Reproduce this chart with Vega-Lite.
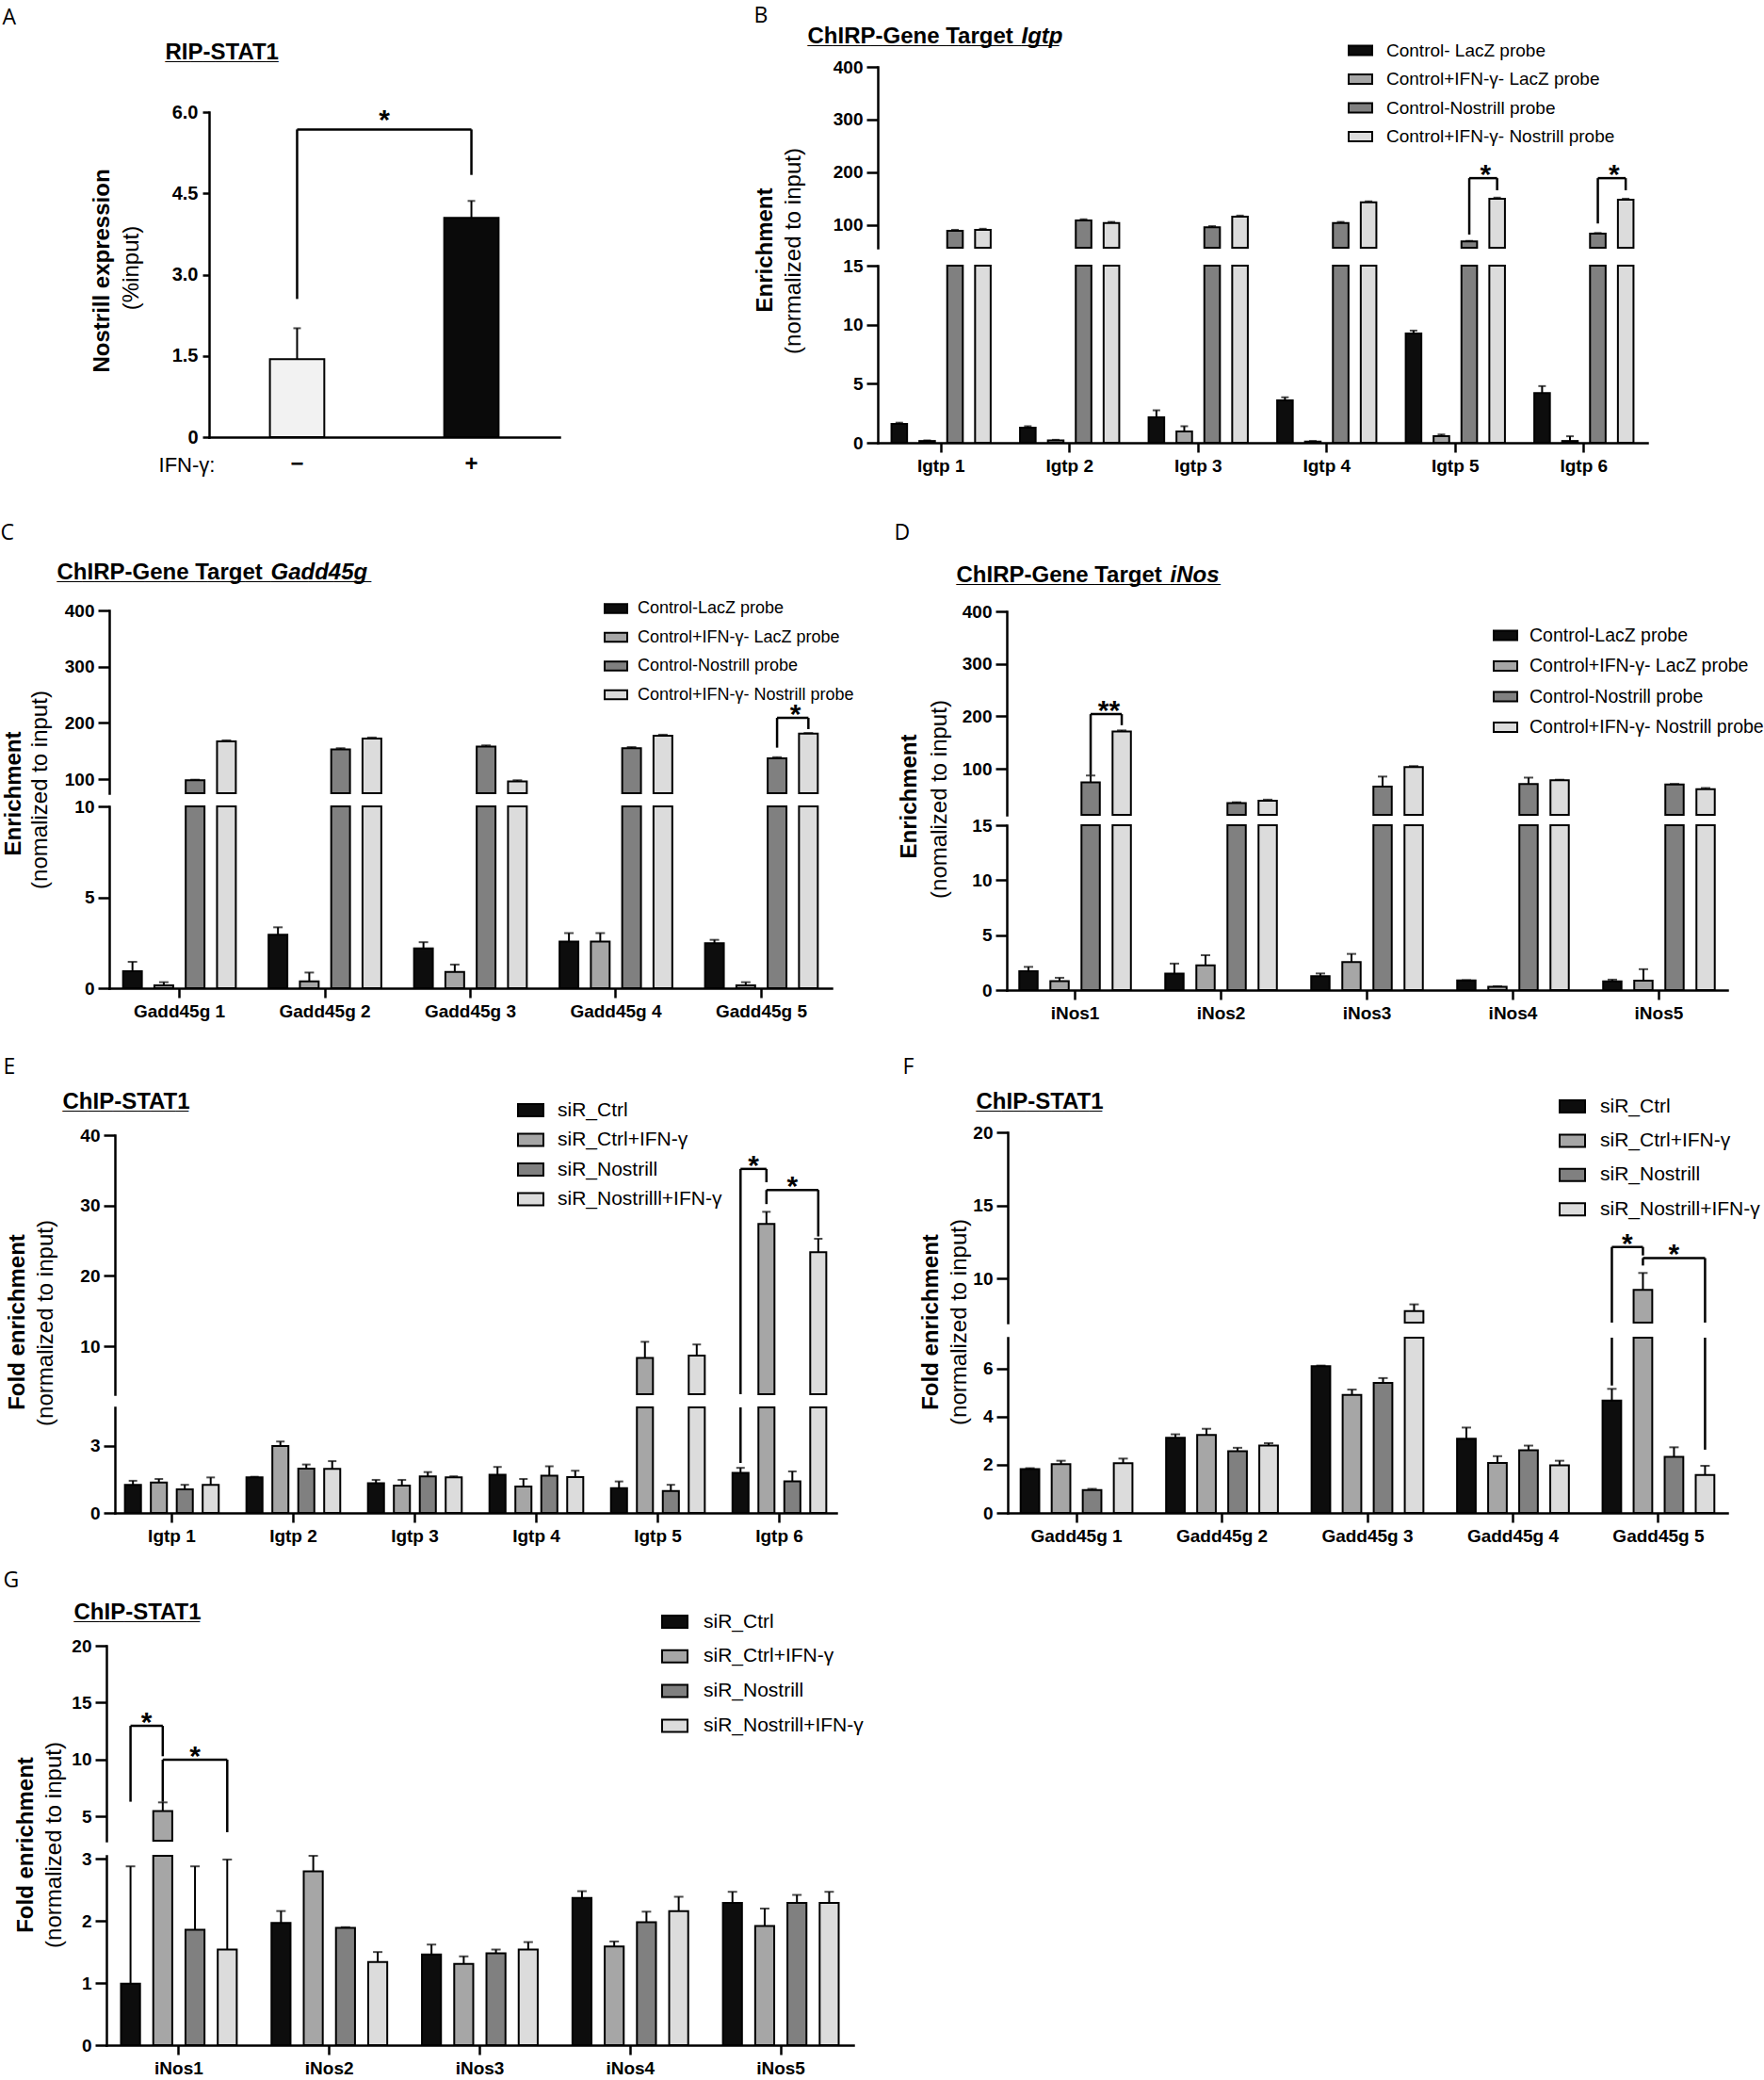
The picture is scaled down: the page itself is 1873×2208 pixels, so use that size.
{
"$schema": "https://vega.github.io/schema/vega-lite/v6.json",
"background": "white",
"padding": 0,
"columns": 2,
"spacing": 0,
"bounds": "flush",
"align": "each",
"resolve": {"scale": {"fill": "independent", "xOffset": "independent"}, "legend": {"fill": "independent"}},
"config": {
  "view": {"stroke": null},
  "font": "Liberation Sans",
  "axis": {"domainColor": "black", "domainWidth": 2.5, "domainCap": "square", "tickColor": "black", "tickWidth": 2.5, "tickSize": 12, "labelColor": "black", "labelFont": "Liberation Sans", "labelFontWeight": "bold", "labelFontSize": 19, "labelPadding": 4, "labelOverlap": false, "labelFlush": false, "labelBound": false, "titleColor": "black", "titleFont": "Liberation Sans", "grid": false, "zindex": 1},
  "axisX": {"labelAngle": 0, "tickSize": 10, "labelPadding": 5},
  "legend": {"labelFont": "Liberation Sans", "labelColor": "black", "labelLimit": 500}
},
"datasets": {
  "A": [{"g":"−","v":1.44,"e":2.01},{"g":"+","v":4.05,"e":4.36}],
  "Av": [{"g":"−","y1":2.55,"y2":5.68},{"g":"+","y1":4.84,"y2":5.68}],
  "Ah": [{"g":"−","y":5.68},{"g":"+","y":5.68}],
  "As": [{"g":"−","y":5.68,"t":"*"}],
  "B": [
    {"g":"Igtp 1","s":"Control- LacZ probe","v":1.6,"e":1.7},
    {"g":"Igtp 1","s":"Control+IFN-γ- LacZ probe","v":0.15,"e":0.2},
    {"g":"Igtp 1","s":"Control-Nostrill probe","v":89,"e":91},
    {"g":"Igtp 1","s":"Control+IFN-γ- Nostrill probe","v":91,"e":93},
    {"g":"Igtp 2","s":"Control- LacZ probe","v":1.27,"e":1.4},
    {"g":"Igtp 2","s":"Control+IFN-γ- LacZ probe","v":0.2,"e":0.25},
    {"g":"Igtp 2","s":"Control-Nostrill probe","v":109,"e":111},
    {"g":"Igtp 2","s":"Control+IFN-γ- Nostrill probe","v":104,"e":106},
    {"g":"Igtp 3","s":"Control- LacZ probe","v":2.15,"e":2.75},
    {"g":"Igtp 3","s":"Control+IFN-γ- LacZ probe","v":0.95,"e":1.4},
    {"g":"Igtp 3","s":"Control-Nostrill probe","v":96,"e":98},
    {"g":"Igtp 3","s":"Control+IFN-γ- Nostrill probe","v":116,"e":118},
    {"g":"Igtp 4","s":"Control- LacZ probe","v":3.6,"e":3.85},
    {"g":"Igtp 4","s":"Control+IFN-γ- LacZ probe","v":0.1,"e":0.15},
    {"g":"Igtp 4","s":"Control-Nostrill probe","v":104,"e":106},
    {"g":"Igtp 4","s":"Control+IFN-γ- Nostrill probe","v":143,"e":145},
    {"g":"Igtp 5","s":"Control- LacZ probe","v":9.25,"e":9.5},
    {"g":"Igtp 5","s":"Control+IFN-γ- LacZ probe","v":0.55,"e":0.7},
    {"g":"Igtp 5","s":"Control-Nostrill probe","v":69,"e":70},
    {"g":"Igtp 5","s":"Control+IFN-γ- Nostrill probe","v":150,"e":152},
    {"g":"Igtp 6","s":"Control- LacZ probe","v":4.2,"e":4.8},
    {"g":"Igtp 6","s":"Control+IFN-γ- LacZ probe","v":0.15,"e":0.55},
    {"g":"Igtp 6","s":"Control-Nostrill probe","v":84,"e":85},
    {"g":"Igtp 6","s":"Control+IFN-γ- Nostrill probe","v":148,"e":150}
  ],
  "Bv": [
    {"g":"Igtp 5","s":"Control-Nostrill probe","y1":82,"y2":189},
    {"g":"Igtp 5","s":"Control+IFN-γ- Nostrill probe","y1":166,"y2":189},
    {"g":"Igtp 6","s":"Control-Nostrill probe","y1":103,"y2":189},
    {"g":"Igtp 6","s":"Control+IFN-γ- Nostrill probe","y1":166,"y2":189}
  ],
  "Bh": [
    {"id":1,"g":"Igtp 5","s":"Control-Nostrill probe","y":189},
    {"id":1,"g":"Igtp 5","s":"Control+IFN-γ- Nostrill probe","y":189},
    {"id":2,"g":"Igtp 6","s":"Control-Nostrill probe","y":189},
    {"id":2,"g":"Igtp 6","s":"Control+IFN-γ- Nostrill probe","y":189}
  ],
  "Bs": [
    {"g":"Igtp 5","s":"Control-Nostrill probe","y":189,"t":"*"},
    {"g":"Igtp 6","s":"Control-Nostrill probe","y":189,"t":"*"}
  ],
  "C": [
    {"g":"Gadd45g 1","s":"Control-LacZ probe","v":0.93,"e":1.45},
    {"g":"Gadd45g 1","s":"Control+IFN-γ- LacZ probe","v":0.15,"e":0.33},
    {"g":"Gadd45g 1","s":"Control-Nostrill probe","v":98,"e":99},
    {"g":"Gadd45g 1","s":"Control+IFN-γ- Nostrill probe","v":167,"e":169},
    {"g":"Gadd45g 2","s":"Control-LacZ probe","v":2.94,"e":3.35},
    {"g":"Gadd45g 2","s":"Control+IFN-γ- LacZ probe","v":0.37,"e":0.86},
    {"g":"Gadd45g 2","s":"Control-Nostrill probe","v":153,"e":155},
    {"g":"Gadd45g 2","s":"Control+IFN-γ- Nostrill probe","v":172,"e":174},
    {"g":"Gadd45g 3","s":"Control-LacZ probe","v":2.19,"e":2.53},
    {"g":"Gadd45g 3","s":"Control+IFN-γ- LacZ probe","v":0.89,"e":1.3},
    {"g":"Gadd45g 3","s":"Control-Nostrill probe","v":158,"e":160},
    {"g":"Gadd45g 3","s":"Control+IFN-γ- Nostrill probe","v":96,"e":98},
    {"g":"Gadd45g 4","s":"Control-LacZ probe","v":2.57,"e":3.03},
    {"g":"Gadd45g 4","s":"Control+IFN-γ- LacZ probe","v":2.57,"e":3.03},
    {"g":"Gadd45g 4","s":"Control-Nostrill probe","v":155,"e":157},
    {"g":"Gadd45g 4","s":"Control+IFN-γ- Nostrill probe","v":177,"e":179},
    {"g":"Gadd45g 5","s":"Control-LacZ probe","v":2.47,"e":2.66},
    {"g":"Gadd45g 5","s":"Control+IFN-γ- LacZ probe","v":0.15,"e":0.33},
    {"g":"Gadd45g 5","s":"Control-Nostrill probe","v":137,"e":139},
    {"g":"Gadd45g 5","s":"Control+IFN-γ- Nostrill probe","v":181,"e":182}
  ],
  "Cv": [
    {"g":"Gadd45g 5","s":"Control-Nostrill probe","y1":156,"y2":209},
    {"g":"Gadd45g 5","s":"Control+IFN-γ- Nostrill probe","y1":189,"y2":209}
  ],
  "Ch": [
    {"id":1,"g":"Gadd45g 5","s":"Control-Nostrill probe","y":209},
    {"id":1,"g":"Gadd45g 5","s":"Control+IFN-γ- Nostrill probe","y":209}
  ],
  "Cs": [{"g":"Gadd45g 5","s":"Control-Nostrill probe","y":209,"t":"*"}],
  "D": [
    {"g":"iNos1","s":"Control-LacZ probe","v":1.72,"e":2.11},
    {"g":"iNos1","s":"Control+IFN-γ- LacZ probe","v":0.81,"e":1.12},
    {"g":"iNos1","s":"Control-Nostrill probe","v":74,"e":87},
    {"g":"iNos1","s":"Control+IFN-γ- Nostrill probe","v":171,"e":173},
    {"g":"iNos2","s":"Control-LacZ probe","v":1.51,"e":2.41},
    {"g":"iNos2","s":"Control+IFN-γ- LacZ probe","v":2.26,"e":3.17},
    {"g":"iNos2","s":"Control-Nostrill probe","v":34.5,"e":36},
    {"g":"iNos2","s":"Control+IFN-γ- Nostrill probe","v":39,"e":41},
    {"g":"iNos3","s":"Control-LacZ probe","v":1.27,"e":1.51},
    {"g":"iNos3","s":"Control+IFN-γ- LacZ probe","v":2.54,"e":3.29},
    {"g":"iNos3","s":"Control-Nostrill probe","v":66,"e":85},
    {"g":"iNos3","s":"Control+IFN-γ- Nostrill probe","v":103,"e":105},
    {"g":"iNos4","s":"Control-LacZ probe","v":0.88,"e":0.9},
    {"g":"iNos4","s":"Control+IFN-γ- LacZ probe","v":0.3,"e":0.35},
    {"g":"iNos4","s":"Control-Nostrill probe","v":71,"e":83},
    {"g":"iNos4","s":"Control+IFN-γ- Nostrill probe","v":78,"e":79},
    {"g":"iNos5","s":"Control-LacZ probe","v":0.8,"e":0.95},
    {"g":"iNos5","s":"Control+IFN-γ- LacZ probe","v":0.86,"e":1.9},
    {"g":"iNos5","s":"Control-Nostrill probe","v":70,"e":71},
    {"g":"iNos5","s":"Control+IFN-γ- Nostrill probe","v":61,"e":63}
  ],
  "Dv": [
    {"g":"iNos1","s":"Control-Nostrill probe","y1":88,"y2":204},
    {"g":"iNos1","s":"Control+IFN-γ- Nostrill probe","y1":183,"y2":204}
  ],
  "Dh": [
    {"id":1,"g":"iNos1","s":"Control-Nostrill probe","y":204},
    {"id":1,"g":"iNos1","s":"Control+IFN-γ- Nostrill probe","y":204}
  ],
  "Ds": [{"g":"iNos1","s":"Control-Nostrill probe","y":204,"t":"**"}],
  "E": [
    {"g":"Igtp 1","s":"siR_Ctrl","v":1.26,"e":1.44},
    {"g":"Igtp 1","s":"siR_Ctrl+IFN-γ","v":1.36,"e":1.52},
    {"g":"Igtp 1","s":"siR_Nostrill","v":1.06,"e":1.26},
    {"g":"Igtp 1","s":"siR_Nostrilll+IFN-γ","v":1.26,"e":1.59},
    {"g":"Igtp 2","s":"siR_Ctrl","v":1.59,"e":1.62},
    {"g":"Igtp 2","s":"siR_Ctrl+IFN-γ","v":3.0,"e":3.2},
    {"g":"Igtp 2","s":"siR_Nostrill","v":1.98,"e":2.17},
    {"g":"Igtp 2","s":"siR_Nostrilll+IFN-γ","v":1.97,"e":2.32},
    {"g":"Igtp 3","s":"siR_Ctrl","v":1.33,"e":1.48},
    {"g":"Igtp 3","s":"siR_Ctrl+IFN-γ","v":1.23,"e":1.48},
    {"g":"Igtp 3","s":"siR_Nostrill","v":1.64,"e":1.83},
    {"g":"Igtp 3","s":"siR_Nostrilll+IFN-γ","v":1.59,"e":1.64},
    {"g":"Igtp 4","s":"siR_Ctrl","v":1.71,"e":2.06},
    {"g":"Igtp 4","s":"siR_Ctrl+IFN-γ","v":1.18,"e":1.52},
    {"g":"Igtp 4","s":"siR_Nostrill","v":1.67,"e":2.09},
    {"g":"Igtp 4","s":"siR_Nostrilll+IFN-γ","v":1.61,"e":1.89},
    {"g":"Igtp 5","s":"siR_Ctrl","v":1.11,"e":1.41},
    {"g":"Igtp 5","s":"siR_Ctrl+IFN-γ","v":8.32,"e":10.62},
    {"g":"Igtp 5","s":"siR_Nostrill","v":0.98,"e":1.26},
    {"g":"Igtp 5","s":"siR_Nostrilll+IFN-γ","v":8.66,"e":10.24},
    {"g":"Igtp 6","s":"siR_Ctrl","v":1.79,"e":2.02},
    {"g":"Igtp 6","s":"siR_Ctrl+IFN-γ","v":27.38,"e":29.1},
    {"g":"Igtp 6","s":"siR_Nostrill","v":1.41,"e":1.86},
    {"g":"Igtp 6","s":"siR_Nostrilll+IFN-γ","v":23.35,"e":25.27}
  ],
  "Ev": [
    {"g":"Igtp 6","s":"siR_Ctrl","y1":2.24,"y2":35.2},
    {"g":"Igtp 6","s":"siR_Ctrl+IFN-γ","y1":33.3,"y2":35.2},
    {"g":"Igtp 6","s":"siR_Ctrl+IFN-γ","y1":30.2,"y2":32.2},
    {"g":"Igtp 6","s":"siR_Nostrilll+IFN-γ","y1":25.6,"y2":32.2}
  ],
  "Eh": [
    {"id":1,"g":"Igtp 6","s":"siR_Ctrl","y":35.2},
    {"id":1,"g":"Igtp 6","s":"siR_Ctrl+IFN-γ","y":35.2},
    {"id":2,"g":"Igtp 6","s":"siR_Ctrl+IFN-γ","y":32.2},
    {"id":2,"g":"Igtp 6","s":"siR_Nostrilll+IFN-γ","y":32.2}
  ],
  "Es": [
    {"g":"Igtp 6","s":"siR_Ctrl","y":35.2,"t":"*","adj":1},
    {"g":"Igtp 6","s":"siR_Nostrill","y":32.2,"t":"*","adj":0}
  ],
  "F": [
    {"g":"Gadd45g 1","s":"siR_Ctrl","v":1.82,"e":1.86},
    {"g":"Gadd45g 1","s":"siR_Ctrl+IFN-γ","v":2.03,"e":2.17},
    {"g":"Gadd45g 1","s":"siR_Nostrill","v":0.95,"e":1.0},
    {"g":"Gadd45g 1","s":"siR_Nostrill+IFN-γ","v":2.07,"e":2.26},
    {"g":"Gadd45g 2","s":"siR_Ctrl","v":3.13,"e":3.27},
    {"g":"Gadd45g 2","s":"siR_Ctrl+IFN-γ","v":3.24,"e":3.5},
    {"g":"Gadd45g 2","s":"siR_Nostrill","v":2.57,"e":2.71},
    {"g":"Gadd45g 2","s":"siR_Nostrill+IFN-γ","v":2.8,"e":2.9},
    {"g":"Gadd45g 3","s":"siR_Ctrl","v":6.1,"e":6.13},
    {"g":"Gadd45g 3","s":"siR_Ctrl+IFN-γ","v":4.91,"e":5.13},
    {"g":"Gadd45g 3","s":"siR_Nostrill","v":5.41,"e":5.61},
    {"g":"Gadd45g 3","s":"siR_Nostrill+IFN-γ","v":7.76,"e":8.22},
    {"g":"Gadd45g 4","s":"siR_Ctrl","v":3.09,"e":3.55},
    {"g":"Gadd45g 4","s":"siR_Ctrl+IFN-γ","v":2.08,"e":2.36},
    {"g":"Gadd45g 4","s":"siR_Nostrill","v":2.61,"e":2.8},
    {"g":"Gadd45g 4","s":"siR_Nostrill+IFN-γ","v":1.98,"e":2.17},
    {"g":"Gadd45g 5","s":"siR_Ctrl","v":4.67,"e":5.16},
    {"g":"Gadd45g 5","s":"siR_Ctrl+IFN-γ","v":9.21,"e":10.37},
    {"g":"Gadd45g 5","s":"siR_Nostrill","v":2.33,"e":2.73},
    {"g":"Gadd45g 5","s":"siR_Nostrill+IFN-γ","v":1.58,"e":1.96}
  ],
  "Fv": [
    {"g":"Gadd45g 5","s":"siR_Ctrl","y1":5.3,"y2":12.15},
    {"g":"Gadd45g 5","s":"siR_Ctrl+IFN-γ","y1":11.57,"y2":12.15},
    {"g":"Gadd45g 5","s":"siR_Ctrl+IFN-γ","y1":10.88,"y2":11.39},
    {"g":"Gadd45g 5","s":"siR_Nostrill+IFN-γ","y1":2.63,"y2":11.39}
  ],
  "Fh": [
    {"id":1,"g":"Gadd45g 5","s":"siR_Ctrl","y":12.15},
    {"id":1,"g":"Gadd45g 5","s":"siR_Ctrl+IFN-γ","y":12.15},
    {"id":2,"g":"Gadd45g 5","s":"siR_Ctrl+IFN-γ","y":11.39},
    {"id":2,"g":"Gadd45g 5","s":"siR_Nostrill+IFN-γ","y":11.39}
  ],
  "Fs": [
    {"g":"Gadd45g 5","s":"siR_Ctrl","y":12.15,"t":"*","adj":1},
    {"g":"Gadd45g 5","s":"siR_Nostrill","y":11.39,"t":"*","adj":0}
  ],
  "G": [
    {"g":"iNos1","s":"siR_Ctrl","v":0.99,"e":2.88},
    {"g":"iNos1","s":"siR_Ctrl+IFN-γ","v":5.47,"e":6.22},
    {"g":"iNos1","s":"siR_Nostrill","v":1.86,"e":2.88},
    {"g":"iNos1","s":"siR_Nostrill+IFN-γ","v":1.54,"e":2.99},
    {"g":"iNos2","s":"siR_Ctrl","v":1.97,"e":2.16},
    {"g":"iNos2","s":"siR_Ctrl+IFN-γ","v":2.8,"e":3.36},
    {"g":"iNos2","s":"siR_Nostrill","v":1.89,"e":1.9},
    {"g":"iNos2","s":"siR_Nostrill+IFN-γ","v":1.34,"e":1.5},
    {"g":"iNos3","s":"siR_Ctrl","v":1.46,"e":1.62},
    {"g":"iNos3","s":"siR_Ctrl+IFN-γ","v":1.31,"e":1.43},
    {"g":"iNos3","s":"siR_Nostrill","v":1.48,"e":1.54},
    {"g":"iNos3","s":"siR_Nostrill+IFN-γ","v":1.54,"e":1.66},
    {"g":"iNos4","s":"siR_Ctrl","v":2.37,"e":2.48},
    {"g":"iNos4","s":"siR_Ctrl+IFN-γ","v":1.59,"e":1.67},
    {"g":"iNos4","s":"siR_Nostrill","v":1.98,"e":2.15},
    {"g":"iNos4","s":"siR_Nostrill+IFN-γ","v":2.16,"e":2.39},
    {"g":"iNos5","s":"siR_Ctrl","v":2.29,"e":2.47},
    {"g":"iNos5","s":"siR_Ctrl+IFN-γ","v":1.92,"e":2.2},
    {"g":"iNos5","s":"siR_Nostrill","v":2.29,"e":2.42},
    {"g":"iNos5","s":"siR_Nostrill+IFN-γ","v":2.29,"e":2.47}
  ],
  "Gv": [
    {"g":"iNos1","s":"siR_Ctrl","y1":6.28,"y2":12.95},
    {"g":"iNos1","s":"siR_Ctrl+IFN-γ","y1":10.28,"y2":12.95},
    {"g":"iNos1","s":"siR_Ctrl+IFN-γ","y1":6.28,"y2":9.98},
    {"g":"iNos1","s":"siR_Nostrill+IFN-γ","y1":3.6,"y2":9.98}
  ],
  "Gh": [
    {"id":1,"g":"iNos1","s":"siR_Ctrl","y":12.95},
    {"id":1,"g":"iNos1","s":"siR_Ctrl+IFN-γ","y":12.95},
    {"id":2,"g":"iNos1","s":"siR_Ctrl+IFN-γ","y":9.98},
    {"id":2,"g":"iNos1","s":"siR_Nostrill+IFN-γ","y":9.98}
  ],
  "Gs": [
    {"g":"iNos1","s":"siR_Ctrl","y":12.95,"t":"*","adj":1},
    {"g":"iNos1","s":"siR_Nostrill","y":9.98,"t":"*","adj":0}
  ]
},
"concat": [
{
  "width": 790, "height": 530,
  "resolve": {"scale": {"x": "independent", "y": "independent", "fill": "independent"}, "axis": {"x": "independent", "y": "independent"}, "legend": {"fill": "independent"}},
  "layer": [
    {"layer": [
      {"data": {"name": "A"}, "mark": {"type": "bar", "stroke": "black", "strokeWidth": 2},
       "encoding": {
         "x": {"field": "g", "type": "nominal", "scale": {"domain": ["−","+"], "range": [222, 594], "paddingInner": 0.688, "paddingOuter": 0.349},
               "axis": {"orient": "bottom", "offset": -66, "ticks": false, "tickSize": 0, "labelPadding": 16, "labelFontSize": 24, "title": "IFN-γ:", "titleX": 198, "titleY": 29, "titleAlign": "center", "titleBaseline": "middle", "titleFontSize": 22, "titleFontWeight": "normal", "titleAngle": 0}},
         "y": {"field": "v", "type": "quantitative", "scale": {"domain": [0, 6], "range": [464, 119], "zero": false, "nice": false, "clamp": true},
               "axis": {"orient": "left", "offset": -222, "values": [0, 1.5, 3, 4.5, 6], "labelExpr": "datum.value === 0 ? '0' : format(datum.value, '.1f')", "tickSize": 7, "labelPadding": 5, "labelFontSize": 20, "title": "Nostrill expression", "titleX": -114, "titleY": 287, "titleAlign": "center", "titleBaseline": "middle", "titleAngle": -90, "titleFontSize": 24, "titleFontWeight": "bold"}},
         "y2": {"datum": 0},
         "fill": {"field": "g", "type": "nominal", "scale": {"domain": ["−","+"], "range": ["#f2f2f2", "#0a0a0a"]}, "legend": null}
       }},
      {"data": {"name": "A"}, "mark": {"type": "rule", "strokeWidth": 2, "color": "black"},
       "encoding": {"x": {"field": "g", "type": "nominal"}, "y": {"field": "v", "type": "quantitative"}, "y2": {"field": "e"}}},
      {"data": {"name": "A"}, "mark": {"type": "tick", "orient": "horizontal", "size": 8, "thickness": 2, "color": "black"},
       "encoding": {"x": {"field": "g", "type": "nominal"}, "y": {"field": "e", "type": "quantitative"}}}
    ]},
    {"layer": [
      {"data": {"name": "Av"}, "mark": {"type": "rule", "strokeWidth": 2.5, "color": "black"},
       "encoding": {
         "x": {"field": "g", "type": "nominal", "scale": {"domain": ["−","+"], "range": [222, 594], "paddingInner": 0.688, "paddingOuter": 0.349},
               "axis": {"orient": "top", "domain": false, "ticks": false, "labels": false, "title": ["RIP-STAT1", "_________"], "titleX": 175, "titleY": 62, "titleAlign": "left", "titleBaseline": "alphabetic", "titleFontSize": 24, "titleFontWeight": "bold", "titleLineHeight": 0.5, "titleAngle": 0}},
         "y": {"field": "y1", "type": "quantitative", "scale": {"domain": [0, 6], "range": [464, 119], "zero": false, "nice": false, "clamp": true},
               "axis": {"orient": "left", "offset": -222, "domain": false, "ticks": false, "labels": false, "title": "(%input)", "titleX": -83, "titleY": 284, "titleAlign": "center", "titleBaseline": "middle", "titleAngle": -90, "titleFontSize": 24, "titleFontWeight": "normal"}},
         "y2": {"field": "y2"}
       }},
      {"data": {"name": "Ah"}, "mark": {"type": "line", "strokeWidth": 2.5, "color": "black"},
       "encoding": {"x": {"field": "g", "type": "nominal"}, "y": {"field": "y", "type": "quantitative"}}}
    ]},
    {"data": {"name": "As"}, "mark": {"type": "text", "fontSize": 30, "fontWeight": "bold", "dx": 93, "dy": 0, "baseline": "alphabetic", "color": "black"},
     "encoding": {
       "x": {"field": "g", "type": "nominal", "scale": {"domain": ["−","+"], "range": [222, 594], "paddingInner": 0.688, "paddingOuter": 0.349},
             "axis": {"orient": "top", "domain": false, "ticks": false, "labels": false, "title": "A", "titleX": 2, "titleY": 25, "titleAlign": "left", "titleBaseline": "alphabetic", "titleFont": "Open Sans", "titleFontSize": 23, "titleFontWeight": "normal", "titleAngle": 0}},
       "y": {"field": "y", "type": "quantitative", "scale": {"domain": [0, 6], "range": [464, 119], "zero": false, "nice": false, "clamp": true}, "axis": null},
       "text": {"field": "t"}
     }}
  ]
},
{
  "width": 1083, "height": 530,
  "resolve": {"scale": {"x": "independent", "y": "independent", "xOffset": "independent", "fill": "independent"}, "axis": {"x": "independent", "y": "independent"}, "legend": {"fill": "independent"}},
  "layer": [
    {"layer": [
      {"data": {"name": "B"}, "transform": [{"filter": "datum.v > 57"}], "mark": {"type": "bar", "stroke": "black", "strokeWidth": 2},
       "encoding": {
         "x": {"field": "g", "type": "nominal", "scale": {"domain": ["Igtp 1","Igtp 2","Igtp 3","Igtp 4","Igtp 5","Igtp 6"], "range": [142, 959], "paddingInner": 0.133, "paddingOuter": 0.059},
               "axis": {"orient": "top", "domain": false, "ticks": false, "labels": false, "title": ["ChIRP-Gene Target", "____________________"], "titleX": 67, "titleY": 45, "titleAlign": "left", "titleBaseline": "alphabetic", "titleFontSize": 24, "titleFontWeight": "bold", "titleLineHeight": 0.5, "titleAngle": 0}},
         "xOffset": {"field": "s", "type": "nominal", "scale": {"domain": ["Control- LacZ probe","Control+IFN-γ- LacZ probe","Control-Nostrill probe","Control+IFN-γ- Nostrill probe"], "paddingInner": 0.44, "paddingOuter": 0.22}},
         "y": {"field": "v", "type": "quantitative", "scale": {"domain": [57, 400], "range": [263, 71], "zero": false, "nice": false, "clamp": true},
               "axis": {"orient": "left", "offset": -142, "values": [100, 200, 300, 400], "format": "d", "title": "Enrichment", "titleX": -120, "titleY": 265, "titleAlign": "center", "titleBaseline": "middle", "titleAngle": -90, "titleFontSize": 24, "titleFontWeight": "bold"}},
         "y2": {"datum": 0},
         "fill": {"field": "s", "type": "nominal", "scale": {"domain": ["Control- LacZ probe","Control+IFN-γ- LacZ probe","Control-Nostrill probe","Control+IFN-γ- Nostrill probe"], "range": ["#0d0d0d","#a6a6a6","#808080","#dcdcdc"]},
                  "legend": {"orient": "none", "legendX": 641, "legendY": 40, "title": null, "symbolType": "M-1,-0.4H1V0.4H-1Z", "symbolSize": 625, "symbolStrokeColor": "black", "symbolStrokeWidth": 2, "symbolOpacity": 1, "labelFontSize": 19, "labelOffset": 14, "rowPadding": 6.5, "padding": 0}}
       }},
      {"data": {"name": "B"}, "transform": [{"filter": "datum.v > 57 && datum.e > datum.v"}], "mark": {"type": "rule", "strokeWidth": 2, "color": "black"},
       "encoding": {"x": {"field": "g", "type": "nominal"}, "xOffset": {"field": "s", "type": "nominal"}, "y": {"field": "v", "type": "quantitative"}, "y2": {"field": "e"}}},
      {"data": {"name": "B"}, "transform": [{"filter": "datum.v > 57 && datum.e > datum.v"}], "mark": {"type": "tick", "orient": "horizontal", "size": 8, "thickness": 2, "color": "black"},
       "encoding": {"x": {"field": "g", "type": "nominal"}, "xOffset": {"field": "s", "type": "nominal"}, "y": {"field": "e", "type": "quantitative"}}},
      {"data": {"name": "Bv"}, "mark": {"type": "rule", "strokeWidth": 2.5, "color": "black"},
       "encoding": {"x": {"field": "g", "type": "nominal"}, "xOffset": {"field": "s", "type": "nominal"}, "y": {"field": "y1", "type": "quantitative"}, "y2": {"field": "y2"}}},
      {"data": {"name": "Bh"}, "mark": {"type": "line", "strokeWidth": 2.5, "color": "black"},
       "encoding": {"x": {"field": "g", "type": "nominal"}, "xOffset": {"field": "s", "type": "nominal"}, "y": {"field": "y", "type": "quantitative"}, "detail": {"field": "id", "type": "nominal"}}}
    ]},
    {"data": {"name": "Bs"}, "mark": {"type": "text", "fontSize": 30, "fontWeight": "bold", "dx": 14.8, "dy": 6, "baseline": "alphabetic", "color": "black"},
     "encoding": {
       "x": {"field": "g", "type": "nominal", "scale": {"domain": ["Igtp 1","Igtp 2","Igtp 3","Igtp 4","Igtp 5","Igtp 6"], "range": [142, 959], "paddingInner": 0.133, "paddingOuter": 0.059},
             "axis": {"orient": "top", "domain": false, "ticks": false, "labels": false, "title": "Igtp", "titleX": 294, "titleY": 45, "titleAlign": "left", "titleBaseline": "alphabetic", "titleFontSize": 24, "titleFontWeight": "bold", "titleFontStyle": "italic", "titleAngle": 0}},
       "xOffset": {"field": "s", "type": "nominal", "scale": {"domain": ["Control- LacZ probe","Control+IFN-γ- LacZ probe","Control-Nostrill probe","Control+IFN-γ- Nostrill probe"], "paddingInner": 0.44, "paddingOuter": 0.22}},
       "y": {"field": "y", "type": "quantitative", "scale": {"domain": [57, 400], "range": [263, 71], "zero": false, "nice": false, "clamp": true}, "axis": null},
       "text": {"field": "t"}
     }},
    {"layer": [
      {"data": {"name": "B"}, "mark": {"type": "bar", "stroke": "black", "strokeWidth": 2},
       "encoding": {
         "x": {"field": "g", "type": "nominal", "scale": {"domain": ["Igtp 1","Igtp 2","Igtp 3","Igtp 4","Igtp 5","Igtp 6"], "range": [142, 959], "paddingInner": 0.133, "paddingOuter": 0.059},
               "axis": {"orient": "bottom", "offset": -60, "title": "B", "titleX": 10, "titleY": -447, "titleAlign": "left", "titleBaseline": "alphabetic", "titleFont": "Open Sans", "titleFontSize": 23, "titleFontWeight": "normal", "titleAngle": 0}},
         "xOffset": {"field": "s", "type": "nominal", "scale": {"domain": ["Control- LacZ probe","Control+IFN-γ- LacZ probe","Control-Nostrill probe","Control+IFN-γ- Nostrill probe"], "paddingInner": 0.44, "paddingOuter": 0.22}},
         "y": {"field": "v", "type": "quantitative", "scale": {"domain": [0, 15], "range": [470, 282], "zero": false, "nice": false, "clamp": true},
               "axis": {"orient": "left", "offset": -142, "values": [0, 5, 10, 15], "format": "d", "title": "(normalized to input)", "titleX": -90, "titleY": 266, "titleAlign": "center", "titleBaseline": "middle", "titleAngle": -90, "titleFontSize": 24, "titleFontWeight": "normal"}},
         "y2": {"datum": 0},
         "fill": {"field": "s", "type": "nominal", "scale": {"domain": ["Control- LacZ probe","Control+IFN-γ- LacZ probe","Control-Nostrill probe","Control+IFN-γ- Nostrill probe"], "range": ["#0d0d0d","#a6a6a6","#808080","#dcdcdc"]}, "legend": null}
       }},
      {"data": {"name": "B"}, "transform": [{"filter": "datum.v < 15 && datum.e > datum.v"}], "mark": {"type": "rule", "strokeWidth": 2, "color": "black"},
       "encoding": {"x": {"field": "g", "type": "nominal"}, "xOffset": {"field": "s", "type": "nominal"}, "y": {"field": "v", "type": "quantitative"}, "y2": {"field": "e"}}},
      {"data": {"name": "B"}, "transform": [{"filter": "datum.v < 15 && datum.e > datum.v"}], "mark": {"type": "tick", "orient": "horizontal", "size": 8, "thickness": 2, "color": "black"},
       "encoding": {"x": {"field": "g", "type": "nominal"}, "xOffset": {"field": "s", "type": "nominal"}, "y": {"field": "e", "type": "quantitative"}}},
      {"data": {"name": "Bv"}, "mark": {"type": "rule", "strokeWidth": 2.5, "color": "black"},
       "encoding": {"x": {"field": "g", "type": "nominal"}, "xOffset": {"field": "s", "type": "nominal"}, "y": {"field": "y1", "type": "quantitative"}, "y2": {"field": "y2"}}}
    ]}
  ]
},
{
  "width": 790, "height": 570,
  "resolve": {"scale": {"x": "independent", "y": "independent", "xOffset": "independent", "fill": "independent"}, "axis": {"x": "independent", "y": "independent"}, "legend": {"fill": "independent"}},
  "layer": [
    {"layer": [
      {"data": {"name": "C"}, "transform": [{"filter": "datum.v > 75"}], "mark": {"type": "bar", "stroke": "black", "strokeWidth": 2},
       "encoding": {
         "x": {"field": "g", "type": "nominal", "scale": {"domain": ["Gadd45g 1","Gadd45g 2","Gadd45g 3","Gadd45g 4","Gadd45g 5"], "range": [116, 883], "paddingInner": 0.139, "paddingOuter": 0.052},
               "axis": {"orient": "top", "domain": false, "ticks": false, "labels": false, "title": ["ChIRP-Gene Target", "_________________________"], "titleX": 60, "titleY": 84, "titleAlign": "left", "titleBaseline": "alphabetic", "titleFontSize": 24, "titleFontWeight": "bold", "titleLineHeight": 0.5, "titleAngle": 0}},
         "xOffset": {"field": "s", "type": "nominal", "scale": {"domain": ["Control-LacZ probe","Control+IFN-γ- LacZ probe","Control-Nostrill probe","Control+IFN-γ- Nostrill probe"], "paddingInner": 0.4, "paddingOuter": 0.2}},
         "y": {"field": "v", "type": "quantitative", "scale": {"domain": [75, 400], "range": [312, 118], "zero": false, "nice": false, "clamp": true},
               "axis": {"orient": "left", "offset": -116, "values": [100, 200, 300, 400], "format": "d", "title": "Enrichment", "titleX": -102, "titleY": 312, "titleAlign": "center", "titleBaseline": "middle", "titleAngle": -90, "titleFontSize": 24, "titleFontWeight": "bold"}},
         "y2": {"datum": 0},
         "fill": {"field": "s", "type": "nominal", "scale": {"domain": ["Control-LacZ probe","Control+IFN-γ- LacZ probe","Control-Nostrill probe","Control+IFN-γ- Nostrill probe"], "range": ["#0d0d0d","#a6a6a6","#808080","#dcdcdc"]},
                  "legend": {"orient": "none", "legendX": 641, "legendY": 103, "title": null, "symbolType": "M-1,-0.4H1V0.4H-1Z", "symbolSize": 576, "symbolStrokeColor": "black", "symbolStrokeWidth": 2, "symbolOpacity": 1, "labelFontSize": 18, "labelOffset": 10, "rowPadding": 8.5, "padding": 0}}
       }},
      {"data": {"name": "C"}, "transform": [{"filter": "datum.v > 75 && datum.e > datum.v"}], "mark": {"type": "rule", "strokeWidth": 2, "color": "black"},
       "encoding": {"x": {"field": "g", "type": "nominal"}, "xOffset": {"field": "s", "type": "nominal"}, "y": {"field": "v", "type": "quantitative"}, "y2": {"field": "e"}}},
      {"data": {"name": "C"}, "transform": [{"filter": "datum.v > 75 && datum.e > datum.v"}], "mark": {"type": "tick", "orient": "horizontal", "size": 10, "thickness": 2, "color": "black"},
       "encoding": {"x": {"field": "g", "type": "nominal"}, "xOffset": {"field": "s", "type": "nominal"}, "y": {"field": "e", "type": "quantitative"}}},
      {"data": {"name": "Cv"}, "mark": {"type": "rule", "strokeWidth": 2.5, "color": "black"},
       "encoding": {"x": {"field": "g", "type": "nominal"}, "xOffset": {"field": "s", "type": "nominal"}, "y": {"field": "y1", "type": "quantitative"}, "y2": {"field": "y2"}}},
      {"data": {"name": "Ch"}, "mark": {"type": "line", "strokeWidth": 2.5, "color": "black"},
       "encoding": {"x": {"field": "g", "type": "nominal"}, "xOffset": {"field": "s", "type": "nominal"}, "y": {"field": "y", "type": "quantitative"}, "detail": {"field": "id", "type": "nominal"}}}
    ]},
    {"data": {"name": "Cs"}, "mark": {"type": "text", "fontSize": 30, "fontWeight": "bold", "dx": 16.6, "dy": 6, "baseline": "alphabetic", "color": "black"},
     "encoding": {
       "x": {"field": "g", "type": "nominal", "scale": {"domain": ["Gadd45g 1","Gadd45g 2","Gadd45g 3","Gadd45g 4","Gadd45g 5"], "range": [116, 883], "paddingInner": 0.139, "paddingOuter": 0.052},
             "axis": {"orient": "top", "domain": false, "ticks": false, "labels": false, "title": "Gadd45g", "titleX": 287, "titleY": 84, "titleAlign": "left", "titleBaseline": "alphabetic", "titleFontSize": 24, "titleFontWeight": "bold", "titleFontStyle": "italic", "titleAngle": 0}},
       "xOffset": {"field": "s", "type": "nominal", "scale": {"domain": ["Control-LacZ probe","Control+IFN-γ- LacZ probe","Control-Nostrill probe","Control+IFN-γ- Nostrill probe"], "paddingInner": 0.4, "paddingOuter": 0.2}},
       "y": {"field": "y", "type": "quantitative", "scale": {"domain": [75, 400], "range": [312, 118], "zero": false, "nice": false, "clamp": true}, "axis": null},
       "text": {"field": "t"}
     }},
    {"layer": [
      {"data": {"name": "C"}, "mark": {"type": "bar", "stroke": "black", "strokeWidth": 2},
       "encoding": {
         "x": {"field": "g", "type": "nominal", "scale": {"domain": ["Gadd45g 1","Gadd45g 2","Gadd45g 3","Gadd45g 4","Gadd45g 5"], "range": [116, 883], "paddingInner": 0.139, "paddingOuter": 0.052},
               "axis": {"orient": "bottom", "offset": -51, "title": "C", "titleX": 0, "titleY": -477, "titleAlign": "left", "titleBaseline": "alphabetic", "titleFont": "Open Sans", "titleFontSize": 23, "titleFontWeight": "normal", "titleAngle": 0}},
         "xOffset": {"field": "s", "type": "nominal", "scale": {"domain": ["Control-LacZ probe","Control+IFN-γ- LacZ probe","Control-Nostrill probe","Control+IFN-γ- Nostrill probe"], "paddingInner": 0.4, "paddingOuter": 0.2}},
         "y": {"field": "v", "type": "quantitative", "scale": {"domain": [0, 10], "range": [519, 326], "zero": false, "nice": false, "clamp": true},
               "axis": {"orient": "left", "offset": -116, "values": [0, 5, 10], "format": "d", "title": "(nomalized to input)", "titleX": -74, "titleY": 308, "titleAlign": "center", "titleBaseline": "middle", "titleAngle": -90, "titleFontSize": 24, "titleFontWeight": "normal"}},
         "y2": {"datum": 0},
         "fill": {"field": "s", "type": "nominal", "scale": {"domain": ["Control-LacZ probe","Control+IFN-γ- LacZ probe","Control-Nostrill probe","Control+IFN-γ- Nostrill probe"], "range": ["#0d0d0d","#a6a6a6","#808080","#dcdcdc"]}, "legend": null}
       }},
      {"data": {"name": "C"}, "transform": [{"filter": "datum.v < 10 && datum.e > datum.v"}], "mark": {"type": "rule", "strokeWidth": 2, "color": "black"},
       "encoding": {"x": {"field": "g", "type": "nominal"}, "xOffset": {"field": "s", "type": "nominal"}, "y": {"field": "v", "type": "quantitative"}, "y2": {"field": "e"}}},
      {"data": {"name": "C"}, "transform": [{"filter": "datum.v < 10 && datum.e > datum.v"}], "mark": {"type": "tick", "orient": "horizontal", "size": 10, "thickness": 2, "color": "black"},
       "encoding": {"x": {"field": "g", "type": "nominal"}, "xOffset": {"field": "s", "type": "nominal"}, "y": {"field": "e", "type": "quantitative"}}},
      {"data": {"name": "Cv"}, "mark": {"type": "rule", "strokeWidth": 2.5, "color": "black"},
       "encoding": {"x": {"field": "g", "type": "nominal"}, "xOffset": {"field": "s", "type": "nominal"}, "y": {"field": "y1", "type": "quantitative"}, "y2": {"field": "y2"}}}
    ]}
  ]
},
{
  "width": 1083, "height": 570,
  "resolve": {"scale": {"x": "independent", "y": "independent", "xOffset": "independent", "fill": "independent"}, "axis": {"x": "independent", "y": "independent"}, "legend": {"fill": "independent"}},
  "layer": [
    {"layer": [
      {"data": {"name": "D"}, "transform": [{"filter": "datum.v > 12"}], "mark": {"type": "bar", "stroke": "black", "strokeWidth": 2},
       "encoding": {
         "x": {"field": "g", "type": "nominal", "scale": {"domain": ["iNos1","iNos2","iNos3","iNos4","iNos5"], "range": [279, 1044], "paddingInner": 0.148, "paddingOuter": 0.042},
               "axis": {"orient": "top", "domain": false, "ticks": false, "labels": false, "title": ["ChIRP-Gene Target", "_____________________"], "titleX": 225, "titleY": 87, "titleAlign": "left", "titleBaseline": "alphabetic", "titleFontSize": 24, "titleFontWeight": "bold", "titleLineHeight": 0.5, "titleAngle": 0}},
         "xOffset": {"field": "s", "type": "nominal", "scale": {"domain": ["Control-LacZ probe","Control+IFN-γ- LacZ probe","Control-Nostrill probe","Control+IFN-γ- Nostrill probe"], "paddingInner": 0.41, "paddingOuter": 0.205}},
         "y": {"field": "v", "type": "quantitative", "scale": {"domain": [12, 400], "range": [335, 119], "zero": false, "nice": false, "clamp": true},
               "axis": {"orient": "left", "offset": -279, "values": [100, 200, 300, 400], "format": "d", "title": "Enrichment", "titleX": -104, "titleY": 315, "titleAlign": "center", "titleBaseline": "middle", "titleAngle": -90, "titleFontSize": 24, "titleFontWeight": "bold"}},
         "y2": {"datum": 0},
         "fill": {"field": "s", "type": "nominal", "scale": {"domain": ["Control-LacZ probe","Control+IFN-γ- LacZ probe","Control-Nostrill probe","Control+IFN-γ- Nostrill probe"], "range": ["#0d0d0d","#a6a6a6","#808080","#dcdcdc"]},
                  "legend": {"orient": "none", "legendX": 795, "legendY": 131, "title": null, "symbolType": "M-1,-0.4H1V0.4H-1Z", "symbolSize": 625, "symbolStrokeColor": "black", "symbolStrokeWidth": 2, "symbolOpacity": 1, "labelFontSize": 19.5, "labelOffset": 12, "rowPadding": 9.5, "padding": 0}}
       }},
      {"data": {"name": "D"}, "transform": [{"filter": "datum.v > 12 && datum.e > datum.v"}], "mark": {"type": "rule", "strokeWidth": 2, "color": "black"},
       "encoding": {"x": {"field": "g", "type": "nominal"}, "xOffset": {"field": "s", "type": "nominal"}, "y": {"field": "v", "type": "quantitative"}, "y2": {"field": "e"}}},
      {"data": {"name": "D"}, "transform": [{"filter": "datum.v > 12 && datum.e > datum.v"}], "mark": {"type": "tick", "orient": "horizontal", "size": 10, "thickness": 2, "color": "black"},
       "encoding": {"x": {"field": "g", "type": "nominal"}, "xOffset": {"field": "s", "type": "nominal"}, "y": {"field": "e", "type": "quantitative"}}},
      {"data": {"name": "Dv"}, "mark": {"type": "rule", "strokeWidth": 2.5, "color": "black"},
       "encoding": {"x": {"field": "g", "type": "nominal"}, "xOffset": {"field": "s", "type": "nominal"}, "y": {"field": "y1", "type": "quantitative"}, "y2": {"field": "y2"}}},
      {"data": {"name": "Dh"}, "mark": {"type": "line", "strokeWidth": 2.5, "color": "black"},
       "encoding": {"x": {"field": "g", "type": "nominal"}, "xOffset": {"field": "s", "type": "nominal"}, "y": {"field": "y", "type": "quantitative"}, "detail": {"field": "id", "type": "nominal"}}}
    ]},
    {"data": {"name": "Ds"}, "mark": {"type": "text", "fontSize": 30, "fontWeight": "bold", "dx": 16.5, "dy": 6, "baseline": "alphabetic", "color": "black"},
     "encoding": {
       "x": {"field": "g", "type": "nominal", "scale": {"domain": ["iNos1","iNos2","iNos3","iNos4","iNos5"], "range": [279, 1044], "paddingInner": 0.148, "paddingOuter": 0.042},
             "axis": {"orient": "top", "domain": false, "ticks": false, "labels": false, "title": "iNos", "titleX": 452, "titleY": 87, "titleAlign": "left", "titleBaseline": "alphabetic", "titleFontSize": 24, "titleFontWeight": "bold", "titleFontStyle": "italic", "titleAngle": 0}},
       "xOffset": {"field": "s", "type": "nominal", "scale": {"domain": ["Control-LacZ probe","Control+IFN-γ- LacZ probe","Control-Nostrill probe","Control+IFN-γ- Nostrill probe"], "paddingInner": 0.41, "paddingOuter": 0.205}},
       "y": {"field": "y", "type": "quantitative", "scale": {"domain": [12, 400], "range": [335, 119], "zero": false, "nice": false, "clamp": true}, "axis": null},
       "text": {"field": "t"}
     }},
    {"layer": [
      {"data": {"name": "D"}, "mark": {"type": "bar", "stroke": "black", "strokeWidth": 2},
       "encoding": {
         "x": {"field": "g", "type": "nominal", "scale": {"domain": ["iNos1","iNos2","iNos3","iNos4","iNos5"], "range": [279, 1044], "paddingInner": 0.148, "paddingOuter": 0.042},
               "axis": {"orient": "bottom", "offset": -49, "title": "D", "titleX": 159, "titleY": -479, "titleAlign": "left", "titleBaseline": "alphabetic", "titleFont": "Open Sans", "titleFontSize": 23, "titleFontWeight": "normal", "titleAngle": 0}},
         "xOffset": {"field": "s", "type": "nominal", "scale": {"domain": ["Control-LacZ probe","Control+IFN-γ- LacZ probe","Control-Nostrill probe","Control+IFN-γ- Nostrill probe"], "paddingInner": 0.41, "paddingOuter": 0.205}},
         "y": {"field": "v", "type": "quantitative", "scale": {"domain": [0, 15], "range": [521, 346], "zero": false, "nice": false, "clamp": true},
               "axis": {"orient": "left", "offset": -279, "values": [0, 5, 10, 15], "format": "d", "title": "(nomalized to input)", "titleX": -72, "titleY": 318, "titleAlign": "center", "titleBaseline": "middle", "titleAngle": -90, "titleFontSize": 24, "titleFontWeight": "normal"}},
         "y2": {"datum": 0},
         "fill": {"field": "s", "type": "nominal", "scale": {"domain": ["Control-LacZ probe","Control+IFN-γ- LacZ probe","Control-Nostrill probe","Control+IFN-γ- Nostrill probe"], "range": ["#0d0d0d","#a6a6a6","#808080","#dcdcdc"]}, "legend": null}
       }},
      {"data": {"name": "D"}, "transform": [{"filter": "datum.v < 15 && datum.e > datum.v"}], "mark": {"type": "rule", "strokeWidth": 2, "color": "black"},
       "encoding": {"x": {"field": "g", "type": "nominal"}, "xOffset": {"field": "s", "type": "nominal"}, "y": {"field": "v", "type": "quantitative"}, "y2": {"field": "e"}}},
      {"data": {"name": "D"}, "transform": [{"filter": "datum.v < 15 && datum.e > datum.v"}], "mark": {"type": "tick", "orient": "horizontal", "size": 10, "thickness": 2, "color": "black"},
       "encoding": {"x": {"field": "g", "type": "nominal"}, "xOffset": {"field": "s", "type": "nominal"}, "y": {"field": "e", "type": "quantitative"}}},
      {"data": {"name": "Dv"}, "mark": {"type": "rule", "strokeWidth": 2.5, "color": "black"},
       "encoding": {"x": {"field": "g", "type": "nominal"}, "xOffset": {"field": "s", "type": "nominal"}, "y": {"field": "y1", "type": "quantitative"}, "y2": {"field": "y2"}}}
    ]}
  ]
},
{
  "width": 790, "height": 540,
  "resolve": {"scale": {"x": "independent", "y": "independent", "xOffset": "independent", "fill": "independent"}, "axis": {"x": "independent", "y": "independent"}, "legend": {"fill": "independent"}},
  "layer": [
    {"layer": [
      {"data": {"name": "E"}, "transform": [{"filter": "datum.v > 3.17"}], "mark": {"type": "bar", "stroke": "black", "strokeWidth": 2},
       "encoding": {
         "x": {"field": "g", "type": "nominal", "scale": {"domain": ["Igtp 1","Igtp 2","Igtp 3","Igtp 4","Igtp 5","Igtp 6"], "range": [122, 888], "paddingInner": 0.147, "paddingOuter": 0.042},
               "axis": {"orient": "top", "domain": false, "ticks": false, "labels": false, "title": ["ChIP-STAT1", "__________"], "titleX": 66, "titleY": 76, "titleAlign": "left", "titleBaseline": "alphabetic", "titleFontSize": 24, "titleFontWeight": "bold", "titleLineHeight": 0.5, "titleAngle": 0}},
         "xOffset": {"field": "s", "type": "nominal", "scale": {"domain": ["siR_Ctrl","siR_Ctrl+IFN-γ","siR_Nostrill","siR_Nostrilll+IFN-γ"], "paddingInner": 0.38, "paddingOuter": 0.19}},
         "y": {"field": "v", "type": "quantitative", "scale": {"domain": [3.17, 40], "range": [380, 105], "zero": false, "nice": false, "clamp": true},
               "axis": {"orient": "left", "offset": -122, "values": [10, 20, 30, 40], "format": "d", "title": "Fold enrichment", "titleX": -104, "titleY": 303, "titleAlign": "center", "titleBaseline": "middle", "titleAngle": -90, "titleFontSize": 24, "titleFontWeight": "bold"}},
         "y2": {"datum": 0},
         "fill": {"field": "s", "type": "nominal", "scale": {"domain": ["siR_Ctrl","siR_Ctrl+IFN-γ","siR_Nostrill","siR_Nostrilll+IFN-γ"], "range": ["#0d0d0d","#a6a6a6","#808080","#dcdcdc"]},
                  "legend": {"orient": "none", "legendX": 549, "legendY": 64, "title": null, "symbolType": "M-1,-0.48H1V0.48H-1Z", "symbolSize": 729, "symbolStrokeColor": "black", "symbolStrokeWidth": 2, "symbolOpacity": 1, "labelFontSize": 21, "labelOffset": 14, "rowPadding": 6.5, "padding": 0}}
       }},
      {"data": {"name": "E"}, "transform": [{"filter": "datum.v > 3.17 && datum.e > datum.v"}], "mark": {"type": "rule", "strokeWidth": 2, "color": "black"},
       "encoding": {"x": {"field": "g", "type": "nominal"}, "xOffset": {"field": "s", "type": "nominal"}, "y": {"field": "v", "type": "quantitative"}, "y2": {"field": "e"}}},
      {"data": {"name": "E"}, "transform": [{"filter": "datum.v > 3.17 && datum.e > datum.v"}], "mark": {"type": "tick", "orient": "horizontal", "size": 9, "thickness": 2, "color": "black"},
       "encoding": {"x": {"field": "g", "type": "nominal"}, "xOffset": {"field": "s", "type": "nominal"}, "y": {"field": "e", "type": "quantitative"}}},
      {"data": {"name": "Ev"}, "mark": {"type": "rule", "strokeWidth": 2.5, "color": "black"},
       "encoding": {"x": {"field": "g", "type": "nominal"}, "xOffset": {"field": "s", "type": "nominal"}, "y": {"field": "y1", "type": "quantitative"}, "y2": {"field": "y2"}}},
      {"data": {"name": "Eh"}, "mark": {"type": "line", "strokeWidth": 2.5, "color": "black"},
       "encoding": {"x": {"field": "g", "type": "nominal"}, "xOffset": {"field": "s", "type": "nominal"}, "y": {"field": "y", "type": "quantitative"}, "detail": {"field": "id", "type": "nominal"}}},
      {"data": {"name": "Es"}, "transform": [{"filter": "datum.adj == 1"}], "mark": {"type": "text", "fontSize": 30, "fontWeight": "bold", "dx": 13.8, "dy": 6, "baseline": "alphabetic", "color": "black"},
       "encoding": {"x": {"field": "g", "type": "nominal"}, "xOffset": {"field": "s", "type": "nominal"}, "y": {"field": "y", "type": "quantitative"}, "text": {"field": "t"}}},
      {"data": {"name": "Es"}, "transform": [{"filter": "datum.adj == 0"}], "mark": {"type": "text", "fontSize": 30, "fontWeight": "bold", "dx": 0, "dy": 6, "baseline": "alphabetic", "color": "black"},
       "encoding": {"x": {"field": "g", "type": "nominal"}, "xOffset": {"field": "s", "type": "nominal"}, "y": {"field": "y", "type": "quantitative"}, "text": {"field": "t"}}}
    ]},
    {"layer": [
      {"data": {"name": "E"}, "mark": {"type": "bar", "stroke": "black", "strokeWidth": 2},
       "encoding": {
         "x": {"field": "g", "type": "nominal", "scale": {"domain": ["Igtp 1","Igtp 2","Igtp 3","Igtp 4","Igtp 5","Igtp 6"], "range": [122, 888], "paddingInner": 0.147, "paddingOuter": 0.042},
               "axis": {"orient": "bottom", "offset": -34, "title": "E", "titleX": 3, "titleY": -467, "titleAlign": "left", "titleBaseline": "alphabetic", "titleFont": "Open Sans", "titleFontSize": 23, "titleFontWeight": "normal", "titleAngle": 0}},
         "xOffset": {"field": "s", "type": "nominal", "scale": {"domain": ["siR_Ctrl","siR_Ctrl+IFN-γ","siR_Nostrill","siR_Nostrilll+IFN-γ"], "paddingInner": 0.38, "paddingOuter": 0.19}},
         "y": {"field": "v", "type": "quantitative", "scale": {"domain": [0, 4.73], "range": [506, 394], "zero": false, "nice": false, "clamp": true},
               "axis": {"orient": "left", "offset": -122, "values": [0, 3], "format": "d", "title": "(normalized to input)", "titleX": -74, "titleY": 304, "titleAlign": "center", "titleBaseline": "middle", "titleAngle": -90, "titleFontSize": 24, "titleFontWeight": "normal"}},
         "y2": {"datum": 0},
         "fill": {"field": "s", "type": "nominal", "scale": {"domain": ["siR_Ctrl","siR_Ctrl+IFN-γ","siR_Nostrill","siR_Nostrilll+IFN-γ"], "range": ["#0d0d0d","#a6a6a6","#808080","#dcdcdc"]}, "legend": null}
       }},
      {"data": {"name": "E"}, "transform": [{"filter": "datum.v < 4.73 && datum.e > datum.v"}], "mark": {"type": "rule", "strokeWidth": 2, "color": "black"},
       "encoding": {"x": {"field": "g", "type": "nominal"}, "xOffset": {"field": "s", "type": "nominal"}, "y": {"field": "v", "type": "quantitative"}, "y2": {"field": "e"}}},
      {"data": {"name": "E"}, "transform": [{"filter": "datum.v < 4.73 && datum.e > datum.v"}], "mark": {"type": "tick", "orient": "horizontal", "size": 9, "thickness": 2, "color": "black"},
       "encoding": {"x": {"field": "g", "type": "nominal"}, "xOffset": {"field": "s", "type": "nominal"}, "y": {"field": "e", "type": "quantitative"}}},
      {"data": {"name": "Ev"}, "mark": {"type": "rule", "strokeWidth": 2.5, "color": "black"},
       "encoding": {"x": {"field": "g", "type": "nominal"}, "xOffset": {"field": "s", "type": "nominal"}, "y": {"field": "y1", "type": "quantitative"}, "y2": {"field": "y2"}}}
    ]}
  ]
},
{
  "width": 1083, "height": 540,
  "resolve": {"scale": {"x": "independent", "y": "independent", "xOffset": "independent", "fill": "independent"}, "axis": {"x": "independent", "y": "independent"}, "legend": {"fill": "independent"}},
  "layer": [
    {"layer": [
      {"data": {"name": "F"}, "transform": [{"filter": "datum.v > 6.97"}], "mark": {"type": "bar", "stroke": "black", "strokeWidth": 2},
       "encoding": {
         "x": {"field": "g", "type": "nominal", "scale": {"domain": ["Gadd45g 1","Gadd45g 2","Gadd45g 3","Gadd45g 4","Gadd45g 5"], "range": [280, 1044], "paddingInner": 0.146, "paddingOuter": 0.046},
               "axis": {"orient": "top", "domain": false, "ticks": false, "labels": false, "title": ["ChIP-STAT1", "__________"], "titleX": 246, "titleY": 76, "titleAlign": "left", "titleBaseline": "alphabetic", "titleFontSize": 24, "titleFontWeight": "bold", "titleLineHeight": 0.5, "titleAngle": 0}},
         "xOffset": {"field": "s", "type": "nominal", "scale": {"domain": ["siR_Ctrl","siR_Ctrl+IFN-γ","siR_Nostrill","siR_Nostrill+IFN-γ"], "paddingInner": 0.4, "paddingOuter": 0.2}},
         "y": {"field": "v", "type": "quantitative", "scale": {"domain": [6.97, 20], "range": [304, 102], "zero": false, "nice": false, "clamp": true},
               "axis": {"orient": "left", "offset": -280, "values": [10, 15, 20], "format": "d", "title": "Fold enrichment", "titleX": -82, "titleY": 303, "titleAlign": "center", "titleBaseline": "middle", "titleAngle": -90, "titleFontSize": 24, "titleFontWeight": "bold"}},
         "y2": {"datum": 0},
         "fill": {"field": "s", "type": "nominal", "scale": {"domain": ["siR_Ctrl","siR_Ctrl+IFN-γ","siR_Nostrill","siR_Nostrill+IFN-γ"], "range": ["#0d0d0d","#a6a6a6","#808080","#dcdcdc"]},
                  "legend": {"orient": "none", "legendX": 865, "legendY": 60, "title": null, "symbolType": "M-1,-0.48H1V0.48H-1Z", "symbolSize": 729, "symbolStrokeColor": "black", "symbolStrokeWidth": 2, "symbolOpacity": 1, "labelFontSize": 21, "labelOffset": 15, "rowPadding": 11.4, "padding": 0}}
       }},
      {"data": {"name": "F"}, "transform": [{"filter": "datum.v > 6.97 && datum.e > datum.v"}], "mark": {"type": "rule", "strokeWidth": 2, "color": "black"},
       "encoding": {"x": {"field": "g", "type": "nominal"}, "xOffset": {"field": "s", "type": "nominal"}, "y": {"field": "v", "type": "quantitative"}, "y2": {"field": "e"}}},
      {"data": {"name": "F"}, "transform": [{"filter": "datum.v > 6.97 && datum.e > datum.v"}], "mark": {"type": "tick", "orient": "horizontal", "size": 10, "thickness": 2, "color": "black"},
       "encoding": {"x": {"field": "g", "type": "nominal"}, "xOffset": {"field": "s", "type": "nominal"}, "y": {"field": "e", "type": "quantitative"}}},
      {"data": {"name": "Fv"}, "mark": {"type": "rule", "strokeWidth": 2.5, "color": "black"},
       "encoding": {"x": {"field": "g", "type": "nominal"}, "xOffset": {"field": "s", "type": "nominal"}, "y": {"field": "y1", "type": "quantitative"}, "y2": {"field": "y2"}}},
      {"data": {"name": "Fh"}, "mark": {"type": "line", "strokeWidth": 2.5, "color": "black"},
       "encoding": {"x": {"field": "g", "type": "nominal"}, "xOffset": {"field": "s", "type": "nominal"}, "y": {"field": "y", "type": "quantitative"}, "detail": {"field": "id", "type": "nominal"}}},
      {"data": {"name": "Fs"}, "transform": [{"filter": "datum.adj == 1"}], "mark": {"type": "text", "fontSize": 30, "fontWeight": "bold", "dx": 16.5, "dy": 6, "baseline": "alphabetic", "color": "black"},
       "encoding": {"x": {"field": "g", "type": "nominal"}, "xOffset": {"field": "s", "type": "nominal"}, "y": {"field": "y", "type": "quantitative"}, "text": {"field": "t"}}},
      {"data": {"name": "Fs"}, "transform": [{"filter": "datum.adj == 0"}], "mark": {"type": "text", "fontSize": 30, "fontWeight": "bold", "dx": 0, "dy": 6, "baseline": "alphabetic", "color": "black"},
       "encoding": {"x": {"field": "g", "type": "nominal"}, "xOffset": {"field": "s", "type": "nominal"}, "y": {"field": "y", "type": "quantitative"}, "text": {"field": "t"}}}
    ]},
    {"layer": [
      {"data": {"name": "F"}, "mark": {"type": "bar", "stroke": "black", "strokeWidth": 2},
       "encoding": {
         "x": {"field": "g", "type": "nominal", "scale": {"domain": ["Gadd45g 1","Gadd45g 2","Gadd45g 3","Gadd45g 4","Gadd45g 5"], "range": [280, 1044], "paddingInner": 0.146, "paddingOuter": 0.046},
               "axis": {"orient": "bottom", "offset": -34, "title": "F", "titleX": 168, "titleY": -467, "titleAlign": "left", "titleBaseline": "alphabetic", "titleFont": "Open Sans", "titleFontSize": 23, "titleFontWeight": "normal", "titleAngle": 0}},
         "xOffset": {"field": "s", "type": "nominal", "scale": {"domain": ["siR_Ctrl","siR_Ctrl+IFN-γ","siR_Nostrill","siR_Nostrill+IFN-γ"], "paddingInner": 0.4, "paddingOuter": 0.2}},
         "y": {"field": "v", "type": "quantitative", "scale": {"domain": [0, 7.29], "range": [506, 320], "zero": false, "nice": false, "clamp": true},
               "axis": {"orient": "left", "offset": -280, "values": [0, 2, 4, 6], "format": "d", "title": "(normalized to input)", "titleX": -52, "titleY": 303, "titleAlign": "center", "titleBaseline": "middle", "titleAngle": -90, "titleFontSize": 24, "titleFontWeight": "normal"}},
         "y2": {"datum": 0},
         "fill": {"field": "s", "type": "nominal", "scale": {"domain": ["siR_Ctrl","siR_Ctrl+IFN-γ","siR_Nostrill","siR_Nostrill+IFN-γ"], "range": ["#0d0d0d","#a6a6a6","#808080","#dcdcdc"]}, "legend": null}
       }},
      {"data": {"name": "F"}, "transform": [{"filter": "datum.v < 7.29 && datum.e > datum.v"}], "mark": {"type": "rule", "strokeWidth": 2, "color": "black"},
       "encoding": {"x": {"field": "g", "type": "nominal"}, "xOffset": {"field": "s", "type": "nominal"}, "y": {"field": "v", "type": "quantitative"}, "y2": {"field": "e"}}},
      {"data": {"name": "F"}, "transform": [{"filter": "datum.v < 7.29 && datum.e > datum.v"}], "mark": {"type": "tick", "orient": "horizontal", "size": 10, "thickness": 2, "color": "black"},
       "encoding": {"x": {"field": "g", "type": "nominal"}, "xOffset": {"field": "s", "type": "nominal"}, "y": {"field": "e", "type": "quantitative"}}},
      {"data": {"name": "Fv"}, "mark": {"type": "rule", "strokeWidth": 2.5, "color": "black"},
       "encoding": {"x": {"field": "g", "type": "nominal"}, "xOffset": {"field": "s", "type": "nominal"}, "y": {"field": "y1", "type": "quantitative"}, "y2": {"field": "y2"}}}
    ]}
  ]
},
{
  "width": 790, "height": 568,
  "resolve": {"scale": {"x": "independent", "y": "independent", "xOffset": "independent", "fill": "independent"}, "axis": {"x": "independent", "y": "independent"}, "legend": {"fill": "independent"}},
  "layer": [
    {"layer": [
      {"data": {"name": "G"}, "transform": [{"filter": "datum.v > 2.85"}], "mark": {"type": "bar", "stroke": "black", "strokeWidth": 2},
       "encoding": {
         "x": {"field": "g", "type": "nominal", "scale": {"domain": ["iNos1","iNos2","iNos3","iNos4","iNos5"], "range": [113, 906], "paddingInner": 0.143, "paddingOuter": 0.053},
               "axis": {"orient": "top", "domain": false, "ticks": false, "labels": false, "title": ["ChIP-STAT1", "__________"], "titleX": 78, "titleY": 78, "titleAlign": "left", "titleBaseline": "alphabetic", "titleFontSize": 24, "titleFontWeight": "bold", "titleLineHeight": 0.5, "titleAngle": 0}},
         "xOffset": {"field": "s", "type": "nominal", "scale": {"domain": ["siR_Ctrl","siR_Ctrl+IFN-γ","siR_Nostrill","siR_Nostrill+IFN-γ"], "paddingInner": 0.41, "paddingOuter": 0.205}},
         "y": {"field": "v", "type": "quantitative", "scale": {"domain": [2.85, 20], "range": [314, 107], "zero": false, "nice": false, "clamp": true},
               "axis": {"orient": "left", "offset": -113, "values": [5, 10, 15, 20], "format": "d", "title": "Fold enrichment", "titleX": -86, "titleY": 318, "titleAlign": "center", "titleBaseline": "middle", "titleAngle": -90, "titleFontSize": 24, "titleFontWeight": "bold"}},
         "y2": {"datum": 0},
         "fill": {"field": "s", "type": "nominal", "scale": {"domain": ["siR_Ctrl","siR_Ctrl+IFN-γ","siR_Nostrill","siR_Nostrill+IFN-γ"], "range": ["#0d0d0d","#a6a6a6","#808080","#dcdcdc"]},
                  "legend": {"orient": "none", "legendX": 702, "legendY": 67, "title": null, "symbolType": "M-1,-0.48H1V0.48H-1Z", "symbolSize": 729, "symbolStrokeColor": "black", "symbolStrokeWidth": 2, "symbolOpacity": 1, "labelFontSize": 21, "labelOffset": 16, "rowPadding": 11.8, "padding": 0}}
       }},
      {"data": {"name": "G"}, "transform": [{"filter": "datum.v > 2.85 && datum.e > datum.v"}], "mark": {"type": "rule", "strokeWidth": 2, "color": "black"},
       "encoding": {"x": {"field": "g", "type": "nominal"}, "xOffset": {"field": "s", "type": "nominal"}, "y": {"field": "v", "type": "quantitative"}, "y2": {"field": "e"}}},
      {"data": {"name": "G"}, "transform": [{"filter": "datum.v > 2.85 && datum.e > datum.v"}], "mark": {"type": "tick", "orient": "horizontal", "size": 10, "thickness": 2, "color": "black"},
       "encoding": {"x": {"field": "g", "type": "nominal"}, "xOffset": {"field": "s", "type": "nominal"}, "y": {"field": "e", "type": "quantitative"}}},
      {"data": {"name": "Gv"}, "mark": {"type": "rule", "strokeWidth": 2.5, "color": "black"},
       "encoding": {"x": {"field": "g", "type": "nominal"}, "xOffset": {"field": "s", "type": "nominal"}, "y": {"field": "y1", "type": "quantitative"}, "y2": {"field": "y2"}}},
      {"data": {"name": "Gh"}, "mark": {"type": "line", "strokeWidth": 2.5, "color": "black"},
       "encoding": {"x": {"field": "g", "type": "nominal"}, "xOffset": {"field": "s", "type": "nominal"}, "y": {"field": "y", "type": "quantitative"}, "detail": {"field": "id", "type": "nominal"}}},
      {"data": {"name": "Gs"}, "transform": [{"filter": "datum.adj == 1"}], "mark": {"type": "text", "fontSize": 30, "fontWeight": "bold", "dx": 17.1, "dy": 6, "baseline": "alphabetic", "color": "black"},
       "encoding": {"x": {"field": "g", "type": "nominal"}, "xOffset": {"field": "s", "type": "nominal"}, "y": {"field": "y", "type": "quantitative"}, "text": {"field": "t"}}},
      {"data": {"name": "Gs"}, "transform": [{"filter": "datum.adj == 0"}], "mark": {"type": "text", "fontSize": 30, "fontWeight": "bold", "dx": 0, "dy": 6, "baseline": "alphabetic", "color": "black"},
       "encoding": {"x": {"field": "g", "type": "nominal"}, "xOffset": {"field": "s", "type": "nominal"}, "y": {"field": "y", "type": "quantitative"}, "text": {"field": "t"}}}
    ]},
    {"layer": [
      {"data": {"name": "G"}, "mark": {"type": "bar", "stroke": "black", "strokeWidth": 2},
       "encoding": {
         "x": {"field": "g", "type": "nominal", "scale": {"domain": ["iNos1","iNos2","iNos3","iNos4","iNos5"], "range": [113, 906], "paddingInner": 0.143, "paddingOuter": 0.053},
               "axis": {"orient": "bottom", "offset": -37, "title": "G", "titleX": 3, "titleY": -487, "titleAlign": "left", "titleBaseline": "alphabetic", "titleFont": "Open Sans", "titleFontSize": 23, "titleFontWeight": "normal", "titleAngle": 0}},
         "xOffset": {"field": "s", "type": "nominal", "scale": {"domain": ["siR_Ctrl","siR_Ctrl+IFN-γ","siR_Nostrill","siR_Nostrill+IFN-γ"], "paddingInner": 0.41, "paddingOuter": 0.205}},
         "y": {"field": "v", "type": "quantitative", "scale": {"domain": [0, 3.05], "range": [531, 330], "zero": false, "nice": false, "clamp": true},
               "axis": {"orient": "left", "offset": -113, "values": [0, 1, 2, 3], "format": "d", "title": "(normalized to input)", "titleX": -56, "titleY": 318, "titleAlign": "center", "titleBaseline": "middle", "titleAngle": -90, "titleFontSize": 24, "titleFontWeight": "normal"}},
         "y2": {"datum": 0},
         "fill": {"field": "s", "type": "nominal", "scale": {"domain": ["siR_Ctrl","siR_Ctrl+IFN-γ","siR_Nostrill","siR_Nostrill+IFN-γ"], "range": ["#0d0d0d","#a6a6a6","#808080","#dcdcdc"]}, "legend": null}
       }},
      {"data": {"name": "G"}, "transform": [{"filter": "datum.v < 3.05 && datum.e > datum.v"}], "mark": {"type": "rule", "strokeWidth": 2, "color": "black"},
       "encoding": {"x": {"field": "g", "type": "nominal"}, "xOffset": {"field": "s", "type": "nominal"}, "y": {"field": "v", "type": "quantitative"}, "y2": {"field": "e"}}},
      {"data": {"name": "G"}, "transform": [{"filter": "datum.v < 3.05 && datum.e > datum.v"}], "mark": {"type": "tick", "orient": "horizontal", "size": 10, "thickness": 2, "color": "black"},
       "encoding": {"x": {"field": "g", "type": "nominal"}, "xOffset": {"field": "s", "type": "nominal"}, "y": {"field": "e", "type": "quantitative"}}},
      {"data": {"name": "Gv"}, "mark": {"type": "rule", "strokeWidth": 2.5, "color": "black"},
       "encoding": {"x": {"field": "g", "type": "nominal"}, "xOffset": {"field": "s", "type": "nominal"}, "y": {"field": "y1", "type": "quantitative"}, "y2": {"field": "y2"}}}
    ]}
  ]
}
]
}
